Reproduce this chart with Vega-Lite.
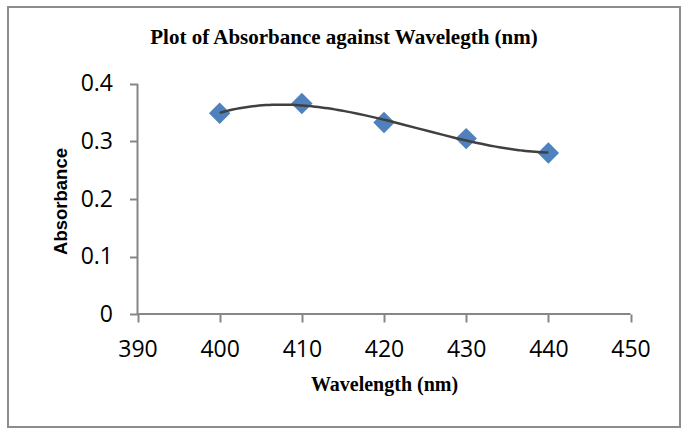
{
  "$schema": "https://vega.github.io/schema/vega-lite/v6.json",
  "width": 672,
  "height": 420,
  "autosize": "none",
  "padding": {"left": 8, "top": 7, "right": 6, "bottom": 3},
  "background": "white",
  "config": {
    "view": {"stroke": "#8c8c8c", "strokeWidth": 2},
    "axis": {"grid": false}
  },
  "title": {
    "text": "Plot of Absorbance against Wavelegth (nm)",
    "font": "Liberation Serif",
    "fontSize": 21,
    "fontWeight": "bold",
    "color": "black",
    "anchor": "middle",
    "frame": "group",
    "offset": -41
  },
  "data": {
    "values": [
      {"wavelength": 400, "absorbance": 0.349},
      {"wavelength": 410, "absorbance": 0.366},
      {"wavelength": 420, "absorbance": 0.333},
      {"wavelength": 430, "absorbance": 0.305},
      {"wavelength": 440, "absorbance": 0.280}
    ]
  },
  "layer": [
    {
      "mark": {"type": "point", "shape": "diamond", "filled": true, "size": 460, "color": "#4F81BD", "opacity": 1},
      "encoding": {
        "x": {
          "field": "wavelength",
          "type": "quantitative",
          "scale": {"domain": [374.24, 456.02], "nice": false, "zero": false},
          "axis": {
            "orient": "bottom",
            "offset": -113,
            "zindex": 1,
            "domain": false,
            "values": [390, 400, 410, 420, 430, 440, 450],
            "ticks": true,
            "tickSize": 8,
            "tickColor": "#868686",
            "tickOpacity": 1,
            "tickWidth": 2,
            "labelFont": "Open Sans",
            "labelFontSize": 23,
            "labelColor": "black",
            "labelPadding": 16,
            "labelFlush": false,
            "labelOverlap": false,
            "title": "Wavelength (nm)",
            "titleFont": "Liberation Serif",
            "titleFontSize": 20,
            "titleFontWeight": "bold",
            "titleColor": "black",
            "titleX": 376,
            "titleY": 70,
            "titleBaseline": "middle"
          }
        },
        "y": {
          "field": "absorbance",
          "type": "quantitative",
          "scale": {"domain": [-0.1965, 0.5339], "nice": false, "zero": false},
          "axis": {
            "orient": "left",
            "offset": -129.5,
            "zindex": 1,
            "domain": false,
            "values": [0, 0.1, 0.2, 0.3, 0.4],
            "format": "~g",
            "ticks": true,
            "tickSize": 8,
            "tickColor": "#868686",
            "tickOpacity": 1,
            "tickWidth": 2,
            "labelFont": "Open Sans",
            "labelFontSize": 23,
            "labelColor": "black",
            "labelPadding": 17,
            "labelFlush": false,
            "labelOverlap": false,
            "title": "Absorbance",
            "titleFont": "Liberation Sans",
            "titleFontSize": 18.5,
            "titleFontWeight": "bold",
            "titleColor": "black",
            "titleX": -77.5,
            "titleY": 194,
            "titleBaseline": "middle",
            "titleAngle": -90
          }
        }
      }
    },
    {
      "data": {"values": [{}]},
      "mark": {"type": "rule", "color": "#868686", "strokeWidth": 2},
      "encoding": {
        "x": {"datum": 390, "type": "quantitative"},
        "x2": {"datum": 450},
        "y": {"datum": 0, "type": "quantitative"}
      }
    },
    {
      "data": {"values": [{}]},
      "mark": {"type": "rule", "color": "#868686", "strokeWidth": 2},
      "encoding": {
        "x": {"datum": 390, "type": "quantitative"},
        "y": {"datum": 0, "type": "quantitative"},
        "y2": {"datum": 0.4}
      }
    },
    {
      "transform": [
        {"regression": "absorbance", "on": "wavelength", "method": "poly", "order": 3}
      ],
      "mark": {"type": "line", "color": "#404040", "strokeWidth": 2.5},
      "encoding": {
        "x": {"field": "wavelength", "type": "quantitative"},
        "y": {"field": "absorbance", "type": "quantitative"}
      }
    }
  ]
}
